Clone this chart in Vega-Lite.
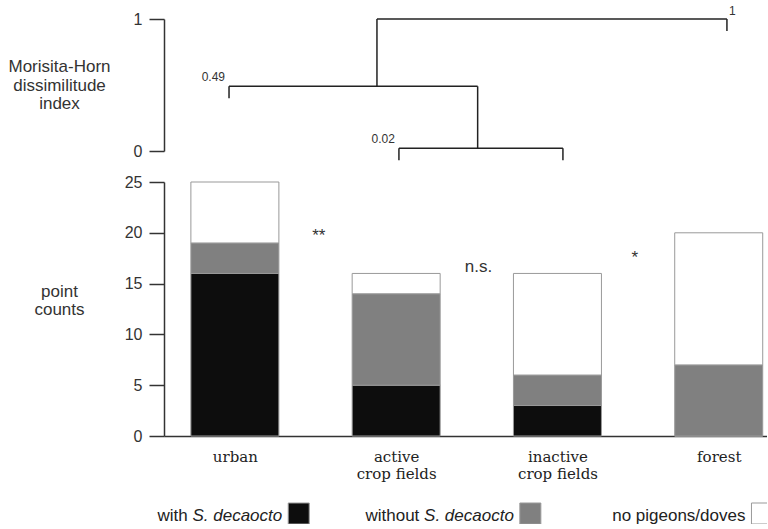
{
  "$schema": "https://vega.github.io/schema/vega-lite/v6.json",
  "autosize": {"type": "pad"},
  "padding": {"left": 7, "top": 5, "right": 0, "bottom": 0},
  "background": "white",
  "config": {
    "view": {"stroke": null},
    "font": "Liberation Sans",
    "axis": {"grid": false}
  },
  "datasets": {
    "counts": [
      {"site": 1, "habitat": "urban", "group": "with", "rank": 1, "count": 16},
      {"site": 1, "habitat": "urban", "group": "without", "rank": 2, "count": 3},
      {"site": 1, "habitat": "urban", "group": "none", "rank": 3, "count": 6},
      {"site": 2, "habitat": "active crop fields", "group": "with", "rank": 1, "count": 5},
      {"site": 2, "habitat": "active crop fields", "group": "without", "rank": 2, "count": 9},
      {"site": 2, "habitat": "active crop fields", "group": "none", "rank": 3, "count": 2},
      {"site": 3, "habitat": "inactive crop fields", "group": "with", "rank": 1, "count": 3},
      {"site": 3, "habitat": "inactive crop fields", "group": "without", "rank": 2, "count": 3},
      {"site": 3, "habitat": "inactive crop fields", "group": "none", "rank": 3, "count": 10},
      {"site": 4, "habitat": "forest", "group": "with", "rank": 1, "count": 0},
      {"site": 4, "habitat": "forest", "group": "without", "rank": 2, "count": 7},
      {"site": 4, "habitat": "forest", "group": "none", "rank": 3, "count": 13}
    ],
    "tree": [
      {"x": 0.988, "x2": 2.504, "y": 0.49, "y2": 0.49},
      {"x": 0.988, "x2": 0.988, "y": 0.49, "y2": 0.40},
      {"x": 2.024, "x2": 3.024, "y": 0.02, "y2": 0.02},
      {"x": 2.024, "x2": 2.024, "y": 0.02, "y2": -0.07},
      {"x": 3.024, "x2": 3.024, "y": 0.02, "y2": -0.07},
      {"x": 2.504, "x2": 2.504, "y": 0.02, "y2": 0.49},
      {"x": 1.89, "x2": 1.89, "y": 0.49, "y2": 1},
      {"x": 1.89, "x2": 4.024, "y": 1, "y2": 1},
      {"x": 4.024, "x2": 4.024, "y": 1, "y2": 0.91}
    ],
    "treeLabels": [
      {"label": "0.49", "x": 0.988, "y": 0.49},
      {"label": "0.02", "x": 2.024, "y": 0.02},
      {"label": "1", "x": 4.024, "y": 1}
    ],
    "signif": [
      {"label": "**", "x": 1.52, "y": 19.2},
      {"label": "n.s.", "x": 2.51, "y": 16.1},
      {"label": "*", "x": 3.48, "y": 17.0}
    ],
    "legend": [
      {"group": "with", "plain": "with", "italic": "S. decaocto"},
      {"group": "without", "plain": "without", "italic": "S. decaocto"},
      {"group": "none", "plain": "no pigeons/doves", "italic": ""}
    ]
  },
  "bounds": "flush",
  "spacing": 31,
  "vconcat": [
    {
      "width": 603,
      "height": 132,
      "layer": [
        {
          "data": {"name": "tree"},
          "mark": {"type": "rule", "color": "#222", "strokeWidth": 1.5},
          "encoding": {
            "x": {"field": "x", "type": "quantitative", "scale": {"domain": [0.5915, 4.2683], "nice": false, "zero": false}, "axis": null},
            "x2": {"field": "x2"},
            "y": {
              "field": "y", "type": "quantitative",
              "scale": {"domain": [0, 1], "nice": false, "zero": false},
              "axis": {
                "values": [0, 1], "format": "d",
                "title": ["Morisita-Horn", "dissimilitude", "index"],
                "titleAngle": 0, "titleAlign": "center", "titleBaseline": "middle",
                "titleX": -105, "titleY": 47.5,
                "titleFontSize": 17, "titleFontWeight": "normal", "titleColor": "#333", "titleLineHeight": 18.5,
                "tickSize": 15, "tickWidth": 1.5, "tickColor": "#333",
                "domainColor": "#333", "domainWidth": 1.5,
                "labelFontSize": 16, "labelColor": "#333", "labelPadding": 7
              }
            },
            "y2": {"field": "y2"}
          }
        },
        {
          "data": {"name": "treeLabels"},
          "transform": [{"filter": "datum.label != '1'"}],
          "mark": {"type": "text", "align": "right", "baseline": "middle", "dx": -4, "dy": -9, "fontSize": 12, "color": "#333"},
          "encoding": {
            "x": {"field": "x", "type": "quantitative"},
            "y": {"field": "y", "type": "quantitative"},
            "text": {"field": "label"}
          }
        },
        {
          "data": {"name": "treeLabels"},
          "transform": [{"filter": "datum.label == '1'"}],
          "mark": {"type": "text", "align": "left", "baseline": "middle", "dx": 2, "dy": -8, "fontSize": 12, "color": "#333"},
          "encoding": {
            "x": {"field": "x", "type": "quantitative"},
            "y": {"field": "y", "type": "quantitative"},
            "text": {"field": "label"}
          }
        }
      ]
    },
    {
      "width": 603,
      "height": 254,
      "layer": [
        {
          "data": {"name": "counts"},
          "mark": {"type": "bar", "width": 88, "stroke": "#999", "strokeWidth": 1},
          "encoding": {
            "x": {
              "field": "site", "type": "quantitative",
              "scale": {"domain": [0.5915, 4.2683], "nice": false, "zero": false},
              "axis": {
                "values": [1, 2, 3, 4],
                "labelExpr": "datum.value == 1 ? 'urban' : datum.value == 2 ? ['active', 'crop fields'] : datum.value == 3 ? ['inactive', 'crop fields'] : 'forest'",
                "title": null, "ticks": false,
                "domainColor": "#333", "domainWidth": 1.5,
                "labelFont": "DejaVu Serif", "labelFontSize": 15, "labelColor": "#222",
                "labelBaseline": "top", "labelLineHeight": 17.5, "labelPadding": 13, "labelFlush": false
              }
            },
            "y": {
              "field": "count", "type": "quantitative", "stack": "zero",
              "scale": {"domain": [0, 25], "nice": false},
              "axis": {
                "values": [0, 5, 10, 15, 20, 25],
                "title": ["point", "counts"],
                "titleAngle": 0, "titleAlign": "center", "titleBaseline": "middle",
                "titleX": -105, "titleY": 109,
                "titleFontSize": 17, "titleFontWeight": "normal", "titleColor": "#333", "titleLineHeight": 18.5,
                "tickSize": 15, "tickWidth": 1.5, "tickColor": "#333",
                "domainColor": "#333", "domainWidth": 1.5,
                "labelFontSize": 16, "labelColor": "#333", "labelPadding": 7
              }
            },
            "color": {
              "field": "group", "type": "nominal",
              "scale": {"domain": ["with", "without", "none"], "range": ["#0d0d0d", "#808080", "#ffffff"]},
              "legend": null
            },
            "order": {"field": "rank", "type": "quantitative"}
          }
        },
        {
          "data": {"name": "signif"},
          "mark": {"type": "text", "fontSize": 17, "baseline": "alphabetic", "align": "center", "color": "#333"},
          "encoding": {
            "x": {"field": "x", "type": "quantitative"},
            "y": {"field": "y", "type": "quantitative"},
            "text": {"field": "label"}
          }
        }
      ]
    },
    {
      "width": 603,
      "height": 57,
      "data": {"name": "legend"},
      "encoding": {
        "x": {
          "field": "group", "type": "nominal",
          "scale": {"type": "point", "domain": ["with", "without", "none"], "padding": 0.3017, "align": 0.964},
          "axis": null
        }
      },
      "layer": [
        {
          "mark": {"type": "square", "size": 441, "opacity": 1, "filled": true, "stroke": "#999", "strokeWidth": 1, "clip": true, "yOffset": 18},
          "encoding": {
            "color": {
              "field": "group", "type": "nominal",
              "scale": {"domain": ["with", "without", "none"], "range": ["#0d0d0d", "#808080", "#ffffff"]},
              "legend": null
            }
          }
        },
        {
          "transform": [{"filter": "datum.italic != ''"}],
          "mark": {"type": "text", "align": "right", "baseline": "alphabetic", "dx": -16.5, "dy": 25.5, "fontSize": 17, "fontStyle": "italic", "color": "#222"},
          "encoding": {"text": {"field": "italic"}}
        },
        {
          "transform": [{"filter": "datum.italic != ''"}],
          "mark": {"type": "text", "align": "right", "baseline": "alphabetic", "dx": -111, "dy": 25.5, "fontSize": 17, "color": "#222"},
          "encoding": {"text": {"field": "plain"}}
        },
        {
          "transform": [{"filter": "datum.italic == ''"}],
          "mark": {"type": "text", "align": "right", "baseline": "alphabetic", "dx": -16.5, "dy": 25.5, "fontSize": 17, "color": "#222"},
          "encoding": {"text": {"field": "plain"}}
        }
      ]
    }
  ]
}
